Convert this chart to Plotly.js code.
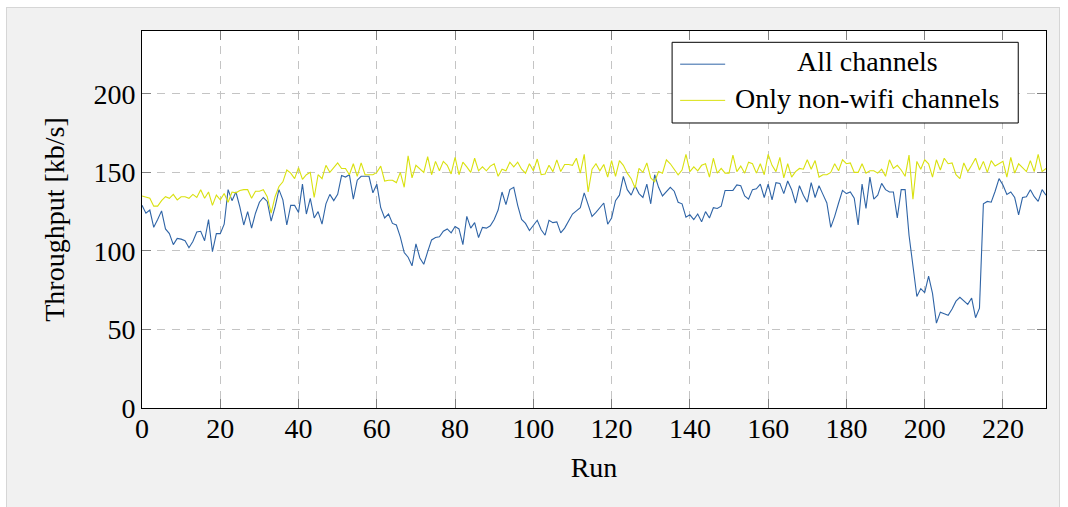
<!DOCTYPE html>
<html>
<head>
<meta charset="utf-8">
<script src="https://cdn.plot.ly/plotly-3.0.1.min.js"></script>
<style>
  html, body { margin: 0; padding: 0; background: #ffffff; }
  #frame { position: absolute; left: 6px; top: 7px; width: 1054px; height: 510px;
           background: #f1f1f1; border: 1px solid #d6d6d6; box-sizing: border-box; }
  #chart { position: absolute; left: 0; top: 0; width: 1068px; height: 507px; }
</style>
</head>
<body>
<div id="frame"></div>
<div id="chart"></div>
<script>
// Throughput per run, kb/s
const seriesNames = ["All channels", "Only non-wifi channels"];

const allChannels = [
  129, 124, 126, 115, 120, 125.5, 114, 111, 104, 108,
  107.5, 106.5, 102, 106, 112, 112.5, 106.5, 120, 99.5, 111,
  111, 117, 139, 132, 137.5, 128, 116.5, 125, 114.5, 124,
  131, 134, 131.5, 119, 128, 139, 132.5, 116.5, 129, 129,
  124.5, 142.5, 123.5, 133.5, 121, 125, 117, 130, 136, 132,
  136, 148, 147, 148.5, 133, 145, 147.5, 147.5, 147.5, 137,
  142.5, 127.5, 121, 123.5, 117.5, 116.5, 109, 99, 96, 90.5,
  104.5, 95.5, 91.5, 99.5, 107, 108.5, 109, 112.5, 114, 111.5,
  115.5, 114, 104, 122, 114.5, 118, 108.5, 115, 114.5, 116,
  120, 126, 137.5, 129.5, 139, 140.5, 129, 120, 117.5, 113,
  116.5, 119.5, 113.5, 110, 119.5, 118, 118.5, 111.5, 114.5, 119,
  123.5, 125.5, 127.5, 137, 129.5, 122, 124.5, 127.5, 130.5, 117,
  121, 132, 135.5, 147.5, 139, 135.5, 141.5, 136.5, 134, 142.5,
  130, 148.5, 140.5, 135, 137.5, 140.5, 138, 131, 130, 121.5,
  123, 120, 123.5, 118.5, 125, 121, 127.5, 127, 128.5, 138.5,
  138.5, 138.5, 142, 141.5, 135, 133, 139, 139.5, 142.5, 134,
  142.5, 132.5, 143.5, 143, 136.5, 144.5, 139, 130.5, 141.5, 135.5,
  131, 143.5, 134, 141.5, 136, 130.5, 115, 122, 130.5, 138.5,
  136.5, 137.5, 133.5, 116.5, 142.5, 127, 147, 133, 135.5, 143,
  139, 137.5, 137.5, 121, 139, 139, 110, 90, 71, 76,
  73.5, 84, 73, 54, 61, 60, 59, 63, 68, 70.5,
  68.5, 66, 70, 57.5, 63.5, 130, 131.5, 131, 138, 146,
  142, 136, 137.5, 134, 123, 134, 134.5, 139, 134.5, 131.5,
  139, 135.5
];

const nonWifiChannels = [
  135, 134, 133.5, 128.5, 128.5, 132, 134.5, 133.5, 136, 132.5,
  134.5, 134.5, 133.5, 136, 134, 139, 133.5, 137.5, 129, 135.5,
  132.5, 136.5, 131, 137.5, 137, 138.5, 139, 139, 133.5, 138,
  138, 139, 134.5, 124, 134.5, 141, 144, 151.5, 149.5, 146,
  153, 145.5, 148.5, 150, 134, 148.5, 146, 154.5, 150, 153,
  156, 152.5, 152.5, 148.5, 155.5, 147.5, 156, 148.5, 148.5, 148.5,
  150, 154, 144.5, 145, 145, 143.5, 150, 140.5, 160.5, 146.5,
  154.5, 152.5, 150, 160, 148.5, 157, 151, 157, 154.5, 149,
  159.5, 148.5, 156.5, 153.5, 150, 159, 151, 153.5, 151, 154,
  155.5, 147.5, 152, 151, 156.5, 153.5, 156.5, 152, 149.5, 155.5,
  151, 158.5, 148.5, 149, 154.5, 150.5, 158, 150.5, 155, 155,
  154.5, 159, 149.5, 161.5, 137.5, 152, 155.5, 151, 155, 147,
  157.5, 147.5, 157.5, 154.5, 149.5, 146, 140, 152.5, 150, 156,
  146.5, 144, 150.5, 149.5, 158, 155.5, 152, 148.5, 151.5, 161.5,
  150.5, 153.5, 151, 154.5, 155.5, 147, 159, 149.5, 152.5, 149.5,
  149.5, 161, 150.5, 154, 149.5, 156.5, 155.5, 149.5, 155.5, 148.5,
  161.5, 154.5, 150.5, 159.5, 146.5, 155.5, 147, 150.5, 152.5, 152,
  158, 152, 157.5, 147, 148.5, 148.5, 150, 155.5, 151, 158,
  155.5, 156, 150, 150, 155.5, 149.5, 151, 151, 149.5, 152,
  147.5, 158, 152.5, 154.5, 151.5, 147.5, 161, 133, 157, 152,
  158, 155.5, 147, 158, 151.5, 159, 155.5, 156, 148.5, 146,
  156, 150.5, 154.5, 159, 151.5, 157, 150, 157.5, 154, 155.5,
  157, 147, 159.5, 149.5, 155.5, 153, 150.5, 157.5, 150.5, 161.5,
  150.5, 152.5
];

const runs = allChannels.map((_, i) => i);

const xTickVals = [0, 20, 40, 60, 80, 100, 120, 140, 160, 180, 200, 220];
const yTickVals = [0, 50, 100, 150, 200];

const colors = ["#2f64a6", "#d9e10f"];
const serif = "Liberation Serif";

const traces = [allChannels, nonWifiChannels].map((ys, k) => ({
  x: runs,
  y: ys,
  type: "scatter",
  mode: "lines",
  name: seriesNames[k],
  line: { color: colors[k], width: 1.1 },
  showlegend: false,
  hoverinfo: "x+y"
}));

// legend box drawn in paper coordinates of the plot area
const leg = { x0: 0.5864, x1: 0.9693, y0: 0.756, y1: 0.970,
              lx0: 0.5953, lx1: 0.6451, tx: 0.8022,
              rows: [0.918, 0.822] };

const shapes = [
  { type: "rect", xref: "paper", yref: "paper",
    x0: leg.x0, x1: leg.x1, y0: leg.y0, y1: leg.y1,
    line: { color: "#000000", width: 1 }, fillcolor: "#ffffff", layer: "above" }
];
const annotations = [];
seriesNames.forEach((name, k) => {
  shapes.push({ type: "line", xref: "paper", yref: "paper",
    x0: leg.lx0, x1: leg.lx1, y0: leg.rows[k] - 0.006, y1: leg.rows[k] - 0.006,
    line: { color: colors[k], width: 1 }, layer: "above" });
  annotations.push({ xref: "paper", yref: "paper", x: leg.tx, y: leg.rows[k],
    xanchor: "center", yanchor: "middle", showarrow: false, text: name,
    font: { family: serif, size: 28, color: "#000000" } });
});

const axisCommon = {
  showline: true, linecolor: "#000000", linewidth: 1, mirror: "ticks",
  ticks: "inside", ticklen: 9, tickwidth: 1, tickcolor: "#808080",
  showgrid: true, gridcolor: "#c4c4c4", gridwidth: 1, griddash: "8px,7px",
  zeroline: false, tickfont: { family: serif, size: 28, color: "#000000" },
  automargin: false
};

const layout = {
  width: 1068, height: 507,
  margin: { l: 142, r: 22, t: 31, b: 99 },
  paper_bgcolor: "rgba(0,0,0,0)",
  plot_bgcolor: "#ffffff",
  showlegend: false,
  xaxis: Object.assign({}, axisCommon, {
    range: [0, 231], tickmode: "array", tickvals: xTickVals,
    ticklabelstandoff: -5,
    title: { text: "Run", font: { family: serif, size: 28, color: "#000000" }, standoff: 14 }
  }),
  yaxis: Object.assign({}, axisCommon, {
    range: [0, 240], tickmode: "array", tickvals: yTickVals,
    title: { text: "Throughput [kb/s]", font: { family: serif, size: 28, color: "#000000" }, standoff: 20 }
  }),
  shapes: shapes,
  annotations: annotations
};

Plotly.newPlot("chart", traces, layout, { displayModeBar: false, staticPlot: true });
</script>
</body>
</html>
